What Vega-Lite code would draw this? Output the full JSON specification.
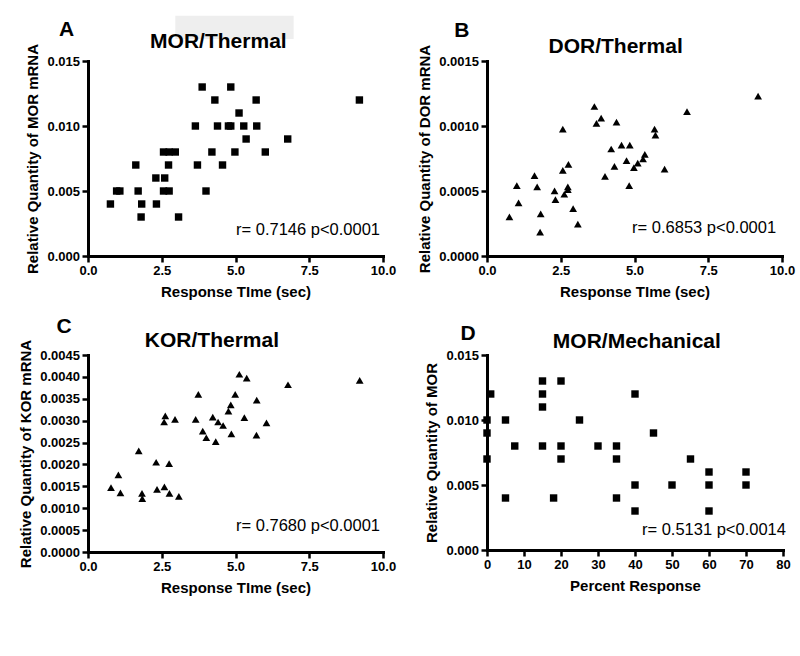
{
  "$schema": "https://vega.github.io/schema/vega-lite/v6.json",
  "background": "white",
  "padding": {"left": 18, "top": 15, "right": 5, "bottom": 5},
  "columns": 2,
  "spacing": {"row": 17, "column": 21},
  "datasets": {
    "mor_thermal": [
      {"t": 0.76, "q": 0.004}, {"t": 0.97, "q": 0.005}, {"t": 1.08, "q": 0.005}, {"t": 1.62, "q": 0.007},
      {"t": 1.70, "q": 0.005}, {"t": 1.82, "q": 0.004}, {"t": 1.80, "q": 0.003}, {"t": 2.30, "q": 0.006},
      {"t": 2.32, "q": 0.004}, {"t": 2.56, "q": 0.008}, {"t": 2.60, "q": 0.006}, {"t": 2.56, "q": 0.005},
      {"t": 2.73, "q": 0.007}, {"t": 2.75, "q": 0.005}, {"t": 2.75, "q": 0.008}, {"t": 2.96, "q": 0.008},
      {"t": 3.07, "q": 0.003}, {"t": 3.64, "q": 0.010}, {"t": 3.71, "q": 0.007}, {"t": 3.87, "q": 0.013},
      {"t": 4.00, "q": 0.005}, {"t": 4.20, "q": 0.008}, {"t": 4.30, "q": 0.012}, {"t": 4.39, "q": 0.010},
      {"t": 4.56, "q": 0.007}, {"t": 4.76, "q": 0.010}, {"t": 4.84, "q": 0.013}, {"t": 4.84, "q": 0.010},
      {"t": 4.98, "q": 0.008}, {"t": 5.12, "q": 0.011}, {"t": 5.28, "q": 0.010}, {"t": 5.36, "q": 0.009},
      {"t": 5.70, "q": 0.012}, {"t": 5.72, "q": 0.010}, {"t": 6.01, "q": 0.008}, {"t": 6.77, "q": 0.009},
      {"t": 9.20, "q": 0.012}
    ],
    "dor_thermal": [
      {"t": 0.76, "q": 0.000301}, {"t": 1.01, "q": 0.000542}, {"t": 1.07, "q": 0.000409}, {"t": 1.61, "q": 0.000618},
      {"t": 1.70, "q": 0.000531}, {"t": 1.82, "q": 0.000324}, {"t": 1.80, "q": 0.000184}, {"t": 2.29, "q": 0.000501},
      {"t": 2.32, "q": 0.000434}, {"t": 2.57, "q": 0.000976}, {"t": 2.57, "q": 0.000659}, {"t": 2.62, "q": 0.000475},
      {"t": 2.74, "q": 0.000531}, {"t": 2.76, "q": 0.000705}, {"t": 2.74, "q": 0.000511}, {"t": 2.92, "q": 0.000365},
      {"t": 3.08, "q": 0.000245}, {"t": 3.64, "q": 0.00115}, {"t": 3.71, "q": 0.00102}, {"t": 3.87, "q": 0.00106},
      {"t": 4.00, "q": 0.000613}, {"t": 4.21, "q": 0.000823}, {"t": 4.32, "q": 0.00069}, {"t": 4.39, "q": 0.00103},
      {"t": 4.56, "q": 0.000853}, {"t": 4.73, "q": 0.000733}, {"t": 4.82, "q": 0.000542}, {"t": 4.84, "q": 0.000853},
      {"t": 4.98, "q": 0.00068}, {"t": 5.11, "q": 0.000715}, {"t": 5.29, "q": 0.000746}, {"t": 5.35, "q": 0.000782},
      {"t": 5.68, "q": 0.000976}, {"t": 5.71, "q": 0.00093}, {"t": 6.02, "q": 0.000669}, {"t": 6.78, "q": 0.00111},
      {"t": 9.19, "q": 0.00123}
    ],
    "kor_thermal": [
      {"t": 0.78, "q": 0.00147}, {"t": 1.03, "q": 0.00176}, {"t": 1.10, "q": 0.00135}, {"t": 1.72, "q": 0.00231},
      {"t": 1.83, "q": 0.00134}, {"t": 1.84, "q": 0.00122}, {"t": 2.31, "q": 0.00205}, {"t": 2.34, "q": 0.00143},
      {"t": 2.58, "q": 0.00297}, {"t": 2.62, "q": 0.00311}, {"t": 2.59, "q": 0.00149}, {"t": 2.75, "q": 0.00202},
      {"t": 2.76, "q": 0.00134}, {"t": 2.95, "q": 0.00303}, {"t": 3.08, "q": 0.00127}, {"t": 3.65, "q": 0.00303},
      {"t": 3.74, "q": 0.00360}, {"t": 3.89, "q": 0.00276}, {"t": 4.01, "q": 0.00261}, {"t": 4.23, "q": 0.00308},
      {"t": 4.33, "q": 0.00252}, {"t": 4.41, "q": 0.00297}, {"t": 4.58, "q": 0.00289}, {"t": 4.76, "q": 0.00322},
      {"t": 4.84, "q": 0.00336}, {"t": 4.86, "q": 0.00270}, {"t": 4.99, "q": 0.00360}, {"t": 5.13, "q": 0.00406},
      {"t": 5.30, "q": 0.00307}, {"t": 5.38, "q": 0.00397}, {"t": 5.72, "q": 0.00347}, {"t": 5.71, "q": 0.00267},
      {"t": 6.05, "q": 0.00295}, {"t": 6.78, "q": 0.00382}, {"t": 9.21, "q": 0.00392}
    ],
    "mor_mech": [
      {"p": 0, "q": 0.010}, {"p": 0, "q": 0.009}, {"p": 0, "q": 0.007}, {"p": 1, "q": 0.012},
      {"p": 5, "q": 0.010}, {"p": 5, "q": 0.004}, {"p": 7.5, "q": 0.008}, {"p": 15, "q": 0.013},
      {"p": 15, "q": 0.012}, {"p": 15, "q": 0.011}, {"p": 15, "q": 0.008}, {"p": 18, "q": 0.004},
      {"p": 20, "q": 0.013}, {"p": 20, "q": 0.008}, {"p": 20, "q": 0.007}, {"p": 25, "q": 0.010},
      {"p": 30, "q": 0.008}, {"p": 35, "q": 0.008}, {"p": 35, "q": 0.007}, {"p": 35, "q": 0.004},
      {"p": 40, "q": 0.012}, {"p": 40, "q": 0.005}, {"p": 40, "q": 0.003}, {"p": 45, "q": 0.009},
      {"p": 50, "q": 0.005}, {"p": 55, "q": 0.007}, {"p": 60, "q": 0.006}, {"p": 60, "q": 0.005},
      {"p": 60, "q": 0.003}, {"p": 70, "q": 0.006}, {"p": 70, "q": 0.005}
    ]
  },
  "concat": [
    {
      "width": 295, "height": 195,
      "layer": [
        {
          "data": {"name": "mor_thermal"},
          "mark": {"type": "point", "shape": "square", "filled": true, "size": 55, "color": "black", "opacity": 1},
          "encoding": {
            "x": {"field": "t", "type": "quantitative", "title": "Response TIme (sec)", "scale": {"domain": [0, 10], "nice": false, "zero": false}, "axis": {"values": [0, 2.5, 5, 7.5, 10], "tickCount": 50, "format": ".1f"}},
            "y": {"field": "q", "type": "quantitative", "title": "Relative Quantity of MOR mRNA", "scale": {"domain": [0, 0.015], "nice": false, "zero": false}, "axis": {"values": [0, 0.005, 0.01, 0.015], "tickCount": 50, "format": ".3f"}}
          }
        },
        {
          "data": {"values": [{}]},
          "mark": {"type": "text", "text": "r= 0.7146 p<0.0001", "align": "right", "baseline": "middle", "fontSize": 16.5, "color": "black"},
          "encoding": {"x": {"datum": 9.9}, "y": {"datum": 0.002}}
        },
        {
          "data": {"values": [{}]},
          "mark": {"type": "text", "text": "A", "align": "center", "baseline": "alphabetic", "fontSize": 21, "fontWeight": "bold", "color": "black", "clip": false},
          "encoding": {"x": {"datum": -0.73}, "y": {"datum": 0.01693}}
        },
        {
          "data": {"values": [{}]},
          "mark": {"type": "rect", "color": "#eeeeee", "clip": false},
          "encoding": {"x": {"datum": 2.96}, "x2": {"datum": 6.97}, "y": {"datum": 0.0167}, "y2": {"datum": 0.01848}}
        },
        {
          "data": {"values": [{}]},
          "mark": {"type": "text", "text": "MOR/Thermal", "align": "center", "baseline": "alphabetic", "fontSize": 21, "fontWeight": "bold", "color": "black", "clip": false},
          "encoding": {"x": {"datum": 4.42}, "y": {"datum": 0.016}}
        }
      ]
    },
    {
      "width": 295, "height": 195,
      "layer": [
        {
          "data": {"name": "dor_thermal"},
          "mark": {"type": "point", "shape": "triangle-up", "filled": true, "size": 60, "color": "black", "opacity": 1},
          "encoding": {
            "x": {"field": "t", "type": "quantitative", "title": "Response TIme (sec)", "scale": {"domain": [0, 10], "nice": false, "zero": false}, "axis": {"values": [0, 2.5, 5, 7.5, 10], "tickCount": 50, "format": ".1f"}},
            "y": {"field": "q", "type": "quantitative", "title": "Relative Quantity of DOR mRNA", "scale": {"domain": [0, 0.0015], "nice": false, "zero": false}, "axis": {"values": [0, 0.0005, 0.001, 0.0015], "tickCount": 50, "format": ".4f"}}
          }
        },
        {
          "data": {"values": [{}]},
          "mark": {"type": "text", "text": "r= 0.6853 p<0.0001", "align": "right", "baseline": "middle", "fontSize": 16.5, "color": "black"},
          "encoding": {"x": {"datum": 9.8}, "y": {"datum": 0.000214}}
        },
        {
          "data": {"values": [{}]},
          "mark": {"type": "text", "text": "B", "align": "center", "baseline": "alphabetic", "fontSize": 21, "fontWeight": "bold", "color": "black", "clip": false},
          "encoding": {"x": {"datum": -0.85}, "y": {"datum": 0.001684}}
        },
        {
          "data": {"values": [{}]},
          "mark": {"type": "text", "text": "DOR/Thermal", "align": "center", "baseline": "alphabetic", "fontSize": 21, "fontWeight": "bold", "color": "black", "clip": false},
          "encoding": {"x": {"datum": 4.36}, "y": {"datum": 0.001561}}
        }
      ]
    },
    {
      "width": 295, "height": 197,
      "layer": [
        {
          "data": {"name": "kor_thermal"},
          "mark": {"type": "point", "shape": "triangle-up", "filled": true, "size": 60, "color": "black", "opacity": 1},
          "encoding": {
            "x": {"field": "t", "type": "quantitative", "title": "Response TIme (sec)", "scale": {"domain": [0, 10], "nice": false, "zero": false}, "axis": {"values": [0, 2.5, 5, 7.5, 10], "tickCount": 50, "format": ".1f"}},
            "y": {"field": "q", "type": "quantitative", "title": "Relative Quantity of KOR mRNA", "scale": {"domain": [0, 0.0045], "nice": false, "zero": false}, "axis": {"values": [0, 0.0005, 0.001, 0.0015, 0.002, 0.0025, 0.003, 0.0035, 0.004, 0.0045], "tickCount": 50, "format": ".4f"}}
          }
        },
        {
          "data": {"values": [{}]},
          "mark": {"type": "text", "text": "r= 0.7680 p<0.0001", "align": "right", "baseline": "middle", "fontSize": 16.5, "color": "black"},
          "encoding": {"x": {"datum": 9.9}, "y": {"datum": 0.000594}}
        },
        {
          "data": {"values": [{}]},
          "mark": {"type": "text", "text": "C", "align": "center", "baseline": "alphabetic", "fontSize": 21, "fontWeight": "bold", "color": "black", "clip": false},
          "encoding": {"x": {"datum": -0.81}, "y": {"datum": 0.005002}}
        },
        {
          "data": {"values": [{}]},
          "mark": {"type": "text", "text": "KOR/Thermal", "align": "center", "baseline": "alphabetic", "fontSize": 21, "fontWeight": "bold", "color": "black", "clip": false},
          "encoding": {"x": {"datum": 4.2}, "y": {"datum": 0.004683}}
        }
      ]
    },
    {
      "width": 296, "height": 195,
      "layer": [
        {
          "data": {"name": "mor_mech"},
          "mark": {"type": "point", "shape": "square", "filled": true, "size": 55, "color": "black", "opacity": 1},
          "encoding": {
            "x": {"field": "p", "type": "quantitative", "title": "Percent Response", "scale": {"domain": [0, 80], "nice": false, "zero": false}, "axis": {"values": [0, 10, 20, 30, 40, 50, 60, 70, 80], "tickCount": 50, "format": "d"}},
            "y": {"field": "q", "type": "quantitative", "title": "Relative Quantity of MOR", "scale": {"domain": [0, 0.015], "nice": false, "zero": false}, "axis": {"values": [0, 0.005, 0.01, 0.015], "tickCount": 50, "format": ".3f"}}
          }
        },
        {
          "data": {"values": [{}]},
          "mark": {"type": "text", "text": "r= 0.5131 p<0.0014", "align": "right", "baseline": "middle", "fontSize": 16.5, "color": "black"},
          "encoding": {"x": {"datum": 80.8}, "y": {"datum": 0.00154}}
        },
        {
          "data": {"values": [{}]},
          "mark": {"type": "text", "text": "D", "align": "center", "baseline": "alphabetic", "fontSize": 21, "fontWeight": "bold", "color": "black", "clip": false},
          "encoding": {"x": {"datum": -5.1}, "y": {"datum": 0.016154}}
        },
        {
          "data": {"values": [{}]},
          "mark": {"type": "text", "text": "MOR/Mechanical", "align": "center", "baseline": "alphabetic", "fontSize": 21, "fontWeight": "bold", "color": "black", "clip": false},
          "encoding": {"x": {"datum": 40.5}, "y": {"datum": 0.015538}}
        }
      ]
    }
  ],
  "config": {
    "view": {"stroke": null},
    "font": "Liberation Sans",
    "text": {"font": "Liberation Sans"},
    "axis": {
      "grid": false,
      "domainColor": "black", "domainWidth": 3, "domainCap": "square",
      "tickColor": "black", "tickWidth": 2.5, "tickSize": 6,
      "labelFont": "Liberation Sans", "labelFontSize": 13, "labelFontWeight": "bold", "labelColor": "black",
      "labelPadding": 2.5, "labelOverlap": false, "labelFlush": false, "labelBound": false,
      "titleFont": "Liberation Sans", "titleFontSize": 15, "titleFontWeight": "bold", "titleColor": "black",
      "titlePadding": 6.5
    }
  }
}
